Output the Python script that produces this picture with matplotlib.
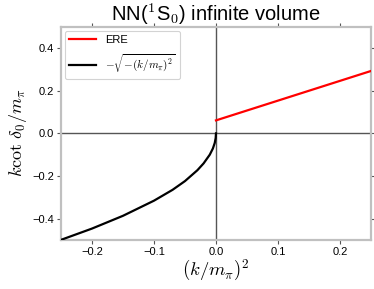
import matplotlib
matplotlib.use("Agg")
import matplotlib.pyplot as plt

# Data
ere_x = [0.0, 0.25]
ere_y = [0.061, 0.293]
bound_x = [-0.25, -0.2, -0.15, -0.1, -0.07, -0.05, -0.03, -0.02, -0.01, -0.005, -0.002, -0.0005, 0.0]
bound_y = [-0.5, -0.447, -0.387, -0.316, -0.265, -0.224, -0.173, -0.141, -0.1, -0.071, -0.045, -0.022, 0.0]
xticks = [-0.2, -0.1, 0.0, 0.1, 0.2]
yticks = [-0.4, -0.2, 0.0, 0.2, 0.4]

plt.rcParams['font.family'] = ['Liberation Sans', 'DejaVu Sans']
plt.rcParams['mathtext.fontset'] = 'cm'

fig = plt.figure(figsize=(3.74, 2.89), dpi=100)
ax = fig.add_axes([0.163, 0.170, 0.829, 0.737])

ax.axhline(0, color='#555555', lw=1.0, zorder=1)
ax.axvline(0, color='#555555', lw=1.0, zorder=1)
ax.plot(ere_x, ere_y, color='#ff0000', lw=1.6, label='ERE', zorder=3)
ax.plot(bound_x, bound_y, color='black', lw=1.6,
        label=r'$-\sqrt{-(k/m_\pi)^2}$', zorder=3)

ax.set_xlim(-0.25, 0.25)
ax.set_ylim(-0.5, 0.5)
ax.set_xticks(xticks)
ax.set_yticks(yticks)
ax.tick_params(axis='both', which='both', direction='out', length=3, width=0.8,
               color='#555555', labelsize=8, top=True, right=True,
               labeltop=False, labelright=False, pad=2)
for s in ax.spines.values():
    s.set_color('#c0c0c0')
    s.set_linewidth(1.6)

ax.set_xlabel(r'$(k/m_\pi)^2$', fontsize=13.5, labelpad=1)
ax.set_ylabel(r'$k\cot\,\delta_0/m_\pi$', fontsize=13, labelpad=2)
ax.set_title(r'NN($^1$S$_0$) infinite volume', fontsize=14.5, pad=2)

leg = ax.legend(loc='upper left', fontsize=8, frameon=True, fancybox=True,
                borderpad=0.4, handlelength=2.4, labelspacing=0.6,
                handletextpad=0.8, borderaxespad=0.35)
leg.get_frame().set_edgecolor('#c8c8c8')
leg.get_frame().set_linewidth(0.8)

fig.savefig('out.png', dpi=100)
